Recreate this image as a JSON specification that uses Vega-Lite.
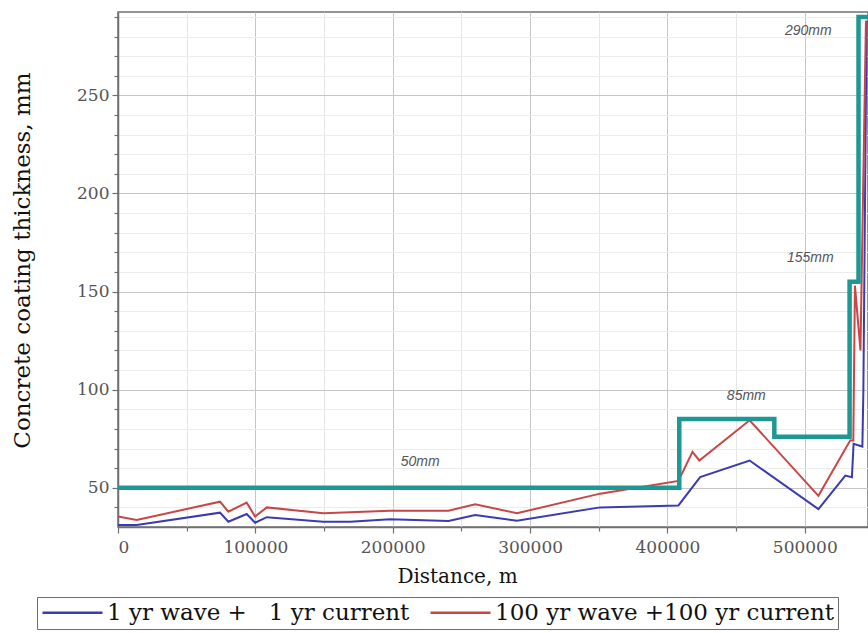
{
  "$schema": "https://vega.github.io/schema/vega-lite/v6.json",
  "width": 750,
  "height": 515,
  "autosize": "none",
  "padding": {"left": 118, "top": 12, "right": 0, "bottom": 106},
  "background": "white",
  "datasets": {
    "curves": [
      {"d": 0, "t": 31, "s": "\u00a0\u00a01 yr wave +\u00a0\u00a0 1 yr current"},
      {"d": 13600, "t": 31, "s": "\u00a0\u00a01 yr wave +\u00a0\u00a0 1 yr current"},
      {"d": 74300, "t": 37.3, "s": "\u00a0\u00a01 yr wave +\u00a0\u00a0 1 yr current"},
      {"d": 80300, "t": 32.7, "s": "\u00a0\u00a01 yr wave +\u00a0\u00a0 1 yr current"},
      {"d": 93700, "t": 36.6, "s": "\u00a0\u00a01 yr wave +\u00a0\u00a0 1 yr current"},
      {"d": 99800, "t": 32.2, "s": "\u00a0\u00a01 yr wave +\u00a0\u00a0 1 yr current"},
      {"d": 108300, "t": 35, "s": "\u00a0\u00a01 yr wave +\u00a0\u00a0 1 yr current"},
      {"d": 149500, "t": 32.7, "s": "\u00a0\u00a01 yr wave +\u00a0\u00a0 1 yr current"},
      {"d": 169000, "t": 32.7, "s": "\u00a0\u00a01 yr wave +\u00a0\u00a0 1 yr current"},
      {"d": 198000, "t": 33.9, "s": "\u00a0\u00a01 yr wave +\u00a0\u00a0 1 yr current"},
      {"d": 240600, "t": 33.1, "s": "\u00a0\u00a01 yr wave +\u00a0\u00a0 1 yr current"},
      {"d": 260000, "t": 36.1, "s": "\u00a0\u00a01 yr wave +\u00a0\u00a0 1 yr current"},
      {"d": 290400, "t": 33.2, "s": "\u00a0\u00a01 yr wave +\u00a0\u00a0 1 yr current"},
      {"d": 351000, "t": 40, "s": "\u00a0\u00a01 yr wave +\u00a0\u00a0 1 yr current"},
      {"d": 408000, "t": 41, "s": "\u00a0\u00a01 yr wave +\u00a0\u00a0 1 yr current"},
      {"d": 423800, "t": 55.4, "s": "\u00a0\u00a01 yr wave +\u00a0\u00a0 1 yr current"},
      {"d": 459800, "t": 63.9, "s": "\u00a0\u00a01 yr wave +\u00a0\u00a0 1 yr current"},
      {"d": 509900, "t": 39.1, "s": "\u00a0\u00a01 yr wave +\u00a0\u00a0 1 yr current"},
      {"d": 529500, "t": 56.2, "s": "\u00a0\u00a01 yr wave +\u00a0\u00a0 1 yr current"},
      {"d": 534300, "t": 55.4, "s": "\u00a0\u00a01 yr wave +\u00a0\u00a0 1 yr current"},
      {"d": 535500, "t": 72.4, "s": "\u00a0\u00a01 yr wave +\u00a0\u00a0 1 yr current"},
      {"d": 541900, "t": 71, "s": "\u00a0\u00a01 yr wave +\u00a0\u00a0 1 yr current"},
      {"d": 542600, "t": 98, "s": "\u00a0\u00a01 yr wave +\u00a0\u00a0 1 yr current"},
      {"d": 545000, "t": 288, "s": "\u00a0\u00a01 yr wave +\u00a0\u00a0 1 yr current"},
      {"d": 0, "t": 35.3, "s": "100 yr wave +100 yr current"},
      {"d": 13600, "t": 33.6, "s": "100 yr wave +100 yr current"},
      {"d": 74300, "t": 42.9, "s": "100 yr wave +100 yr current"},
      {"d": 80300, "t": 37.8, "s": "100 yr wave +100 yr current"},
      {"d": 93700, "t": 42.4, "s": "100 yr wave +100 yr current"},
      {"d": 99800, "t": 35.3, "s": "100 yr wave +100 yr current"},
      {"d": 108300, "t": 40, "s": "100 yr wave +100 yr current"},
      {"d": 149500, "t": 37, "s": "100 yr wave +100 yr current"},
      {"d": 169000, "t": 37.5, "s": "100 yr wave +100 yr current"},
      {"d": 198000, "t": 38.3, "s": "100 yr wave +100 yr current"},
      {"d": 240600, "t": 38.3, "s": "100 yr wave +100 yr current"},
      {"d": 260000, "t": 41.6, "s": "100 yr wave +100 yr current"},
      {"d": 290400, "t": 37, "s": "100 yr wave +100 yr current"},
      {"d": 351000, "t": 47, "s": "100 yr wave +100 yr current"},
      {"d": 408000, "t": 53.5, "s": "100 yr wave +100 yr current"},
      {"d": 418200, "t": 68.3, "s": "100 yr wave +100 yr current"},
      {"d": 423200, "t": 63.9, "s": "100 yr wave +100 yr current"},
      {"d": 459800, "t": 84.4, "s": "100 yr wave +100 yr current"},
      {"d": 509900, "t": 45.9, "s": "100 yr wave +100 yr current"},
      {"d": 533100, "t": 74.2, "s": "100 yr wave +100 yr current"},
      {"d": 535300, "t": 74, "s": "100 yr wave +100 yr current"},
      {"d": 536500, "t": 153, "s": "100 yr wave +100 yr current"},
      {"d": 540500, "t": 120, "s": "100 yr wave +100 yr current"},
      {"d": 544500, "t": 288, "s": "100 yr wave +100 yr current"}
    ],
    "coating": [
      {"d": 0, "t": 50},
      {"d": 408600, "t": 85},
      {"d": 477800, "t": 76},
      {"d": 532600, "t": 155},
      {"d": 539100, "t": 290},
      {"d": 546000, "t": 290}
    ],
    "notes": [
      {"d": 220000, "t": 63.2, "label": "50mm"},
      {"d": 457400, "t": 96.8, "label": "85mm"},
      {"d": 504000, "t": 167, "label": "155mm"},
      {"d": 502500, "t": 283, "label": "290mm"}
    ]
  },
  "encoding": {
    "x": {
      "field": "d",
      "type": "quantitative",
      "scale": {"domain": [0, 546000], "nice": false, "zero": false},
      "axis": {
        "title": "Distance, m",
        "values": [0, 50000, 100000, 150000, 200000, 250000, 300000, 350000, 400000, 450000, 500000],
        "format": "d",
        "labelExpr": "datum.value % 100000 === 0 ? datum.label : ''",
        "gridColor": {"condition": {"test": "datum.value % 100000 === 0", "value": "#c6c6c6"}, "value": "#e6e6e6"},
        "tickSize": {"condition": {"test": "datum.value % 100000 === 0", "value": 6}, "value": 4},
        "labelPadding": 6,
        "titleX": 339,
        "titleY": 49,
        "titleAlign": "center",
        "titleBaseline": "middle",
        "titleFontSize": 20
      }
    },
    "y": {
      "field": "t",
      "type": "quantitative",
      "scale": {"domain": [30, 292.5], "nice": false, "zero": false},
      "axis": {
        "title": "Concrete coating thickness, mm",
        "values": [40, 50, 60, 70, 80, 90, 100, 110, 120, 130, 140, 150, 160, 170, 180, 190, 200, 210, 220, 230, 240, 250, 260, 270, 280, 290],
        "labelExpr": "datum.value % 50 === 0 ? datum.label : ''",
        "gridColor": {"condition": {"test": "datum.value % 50 === 0", "value": "#c6c6c6"}, "value": "#ececec"},
        "tickSize": {"condition": {"test": "datum.value % 50 === 0", "value": 6}, "value": 4},
        "labelPadding": 3,
        "titleX": -96,
        "titleY": 248,
        "titleAngle": -90,
        "titleAlign": "center",
        "titleBaseline": "middle",
        "titleFontSize": 23
      }
    }
  },
  "layer": [
    {
      "data": {"name": "curves"},
      "mark": {"type": "line", "strokeWidth": 2, "clip": true},
      "encoding": {
        "color": {
          "field": "s",
          "type": "nominal",
          "scale": {
            "domain": ["\u00a0\u00a01 yr wave +\u00a0\u00a0 1 yr current", "100 yr wave +100 yr current"],
            "range": ["#3b3bb0", "#c84646"]
          },
          "legend": {
            "title": null,
            "orient": "none",
            "legendX": -81,
            "legendY": 585,
            "direction": "horizontal",
            "symbolType": "M-1,0H5",
            "symbolSize": 400,
            "symbolStrokeWidth": 2.5,
            "labelFont": "DejaVu Serif",
            "labelFontSize": 23,
            "labelColor": "#111",
            "labelLimit": 600,
            "labelOffset": 43,
            "columnPadding": 15,
            "strokeColor": "#6e6e6e",
            "padding": 4
          }
        }
      }
    },
    {
      "data": {"name": "coating"},
      "mark": {"type": "line", "interpolate": "step-after", "color": "#1d9892", "strokeWidth": 4.5, "clip": true},
      "encoding": {}
    },
    {
      "data": {"name": "notes"},
      "mark": {"type": "text", "font": "Liberation Sans", "fontStyle": "italic", "fontSize": 14, "color": "#555555"},
      "encoding": {"text": {"field": "label", "type": "nominal"}}
    }
  ],
  "config": {
    "view": {"stroke": "#707070", "strokeWidth": 1.5},
    "axis": {
      "grid": true,
      "domainColor": "#707070",
      "domainWidth": 1.5,
      "tickColor": "#707070",
      "tickWidth": 1.2,
      "labelFont": "DejaVu Serif",
      "labelFontSize": 17,
      "labelColor": "#555555",
      "titleFont": "DejaVu Serif",
      "titleFontWeight": "normal",
      "titleColor": "#111111"
    }
  }
}
